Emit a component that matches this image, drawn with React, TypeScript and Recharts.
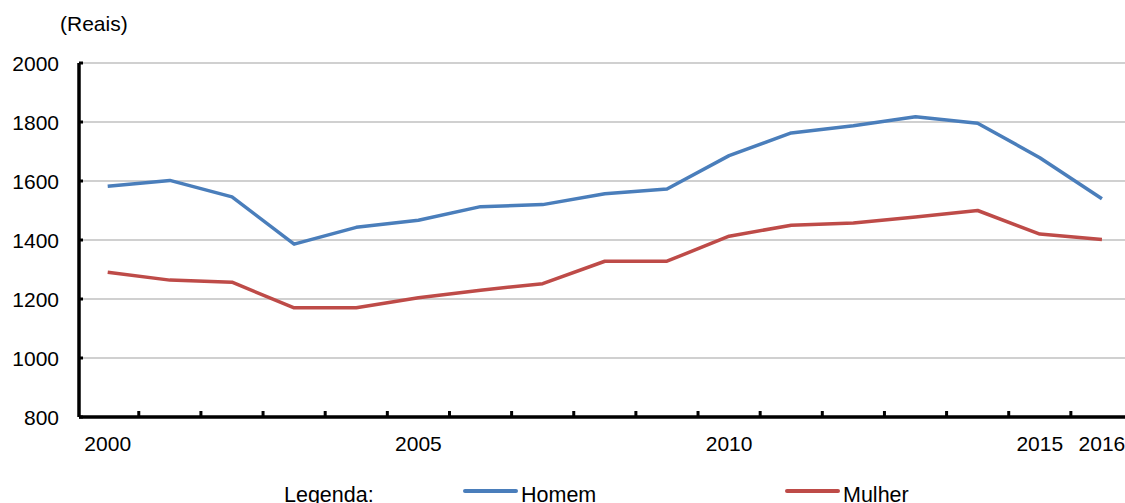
import { CartesianGrid, Line, LineChart, XAxis, YAxis } from "recharts";

const YEARS = [
  2000, 2001, 2002, 2003, 2004, 2005, 2006, 2007, 2008, 2009, 2010, 2011, 2012,
  2013, 2014, 2015, 2016,
];
const HOMEM = [
  1582, 1602, 1546, 1386, 1443, 1467, 1513, 1520, 1557, 1573, 1686, 1763, 1787,
  1818, 1796, 1679, 1540,
];
const MULHER = [
  1291, 1264, 1257, 1170, 1170, 1204, 1230, 1252, 1328, 1328, 1413, 1450, 1458,
  1478, 1500, 1420, 1402,
];
const Y_TICKS = [800, 1000, 1200, 1400, 1600, 1800, 2000];
const X_LABELS = [2000, 2005, 2010, 2015, 2016];

const BLUE = "#4a7ebb";
const RED = "#be4b48";
const FONT = "'Liberation Sans', Arial, sans-serif";
const FONT_SIZE = 21;

const data = YEARS.map((year, i) => ({
  year,
  homem: HOMEM[i],
  mulher: MULHER[i],
}));

// tick marks sit on the boundaries between years, labels on a few years
const boundaries = YEARS.slice(0, -1).map((y) => y + 0.5);
const xTicks = [...boundaries, ...X_LABELS].sort((a, b) => a - b);

const SERIES = [
  { key: "homem", name: "Homem", color: BLUE },
  { key: "mulher", name: "Mulher", color: RED },
];

function XTick(props: any) {
  const { x, y, payload } = props;
  const v = payload.value;
  if (Number.isInteger(v)) {
    return (
      <text x={x} y={y + 34} textAnchor="middle" fontSize={FONT_SIZE} fontFamily={FONT} fill="#000">
        {v}
      </text>
    );
  }
  return <line x1={x} x2={x} y1={y} y2={y - 6} stroke="#000" strokeWidth={3} />;
}

function YTick(props: any) {
  const { x, y, payload } = props;
  return (
    <g>
      <line x1={x} x2={x + 4} y1={y} y2={y} stroke="#000" strokeWidth={3} />
      <text x={x - 20} y={y + 7.5} textAnchor="end" fontSize={FONT_SIZE} fontFamily={FONT} fill="#000">
        {payload.value}
      </text>
    </g>
  );
}

function Overlay() {
  const legendX = [465, 787];
  return (
    <svg width={1125} height={503} style={{ position: "absolute", left: 0, top: 0, pointerEvents: "none" }}>
      <text x={60} y={31} fontSize={FONT_SIZE} fontFamily={FONT} fill="#000">
        (Reais)
      </text>
      <text x={284} y={502} fontSize={21.5} fontFamily={FONT} fill="#000">
        Legenda:
      </text>
      {SERIES.map((s, i) => (
        <g key={s.key}>
          <line
            x1={legendX[i]}
            x2={legendX[i] + 51}
            y1={491}
            y2={491}
            stroke={s.color}
            strokeWidth={4}
            strokeLinecap="round"
          />
          <text x={legendX[i] + 56} y={502} fontSize={21.5} fontFamily={FONT} fill="#000">
            {s.name}
          </text>
        </g>
      ))}
    </svg>
  );
}

export default function App() {
  return (
    <div
      style={{
        position: "absolute",
        left: 0,
        top: 0,
        width: 1125,
        height: 503,
        overflow: "hidden",
        background: "#fff",
        fontFamily: FONT,
      }}
    >
      <LineChart width={1140} height={503} data={data} margin={{ top: 63, right: 7, bottom: 0, left: 0 }}>
        <CartesianGrid vertical={false} stroke="#c0c0c0" strokeWidth={1.5} />
        <XAxis
          dataKey="year"
          type="number"
          domain={[1999.538, 2016.5]}
          ticks={xTicks}
          interval={0}
          height={86}
          tickSize={0}
          tickMargin={0}
          tickLine={false}
          axisLine={{ stroke: "#000", strokeWidth: 3.5 }}
          tick={<XTick />}
        />
        <YAxis
          domain={[800, 2000]}
          ticks={Y_TICKS}
          interval={0}
          width={79}
          tickSize={0}
          tickMargin={0}
          tickLine={false}
          axisLine={{ stroke: "#000", strokeWidth: 3.5 }}
          tick={<YTick />}
        />
        {SERIES.map((s) => (
          <Line
            key={s.key}
            type="linear"
            dataKey={s.key}
            name={s.name}
            stroke={s.color}
            strokeWidth={3.5}
            strokeLinejoin="round"
            dot={false}
            activeDot={false}
            isAnimationActive={false}
          />
        ))}
      </LineChart>
      <Overlay />
    </div>
  );
}
